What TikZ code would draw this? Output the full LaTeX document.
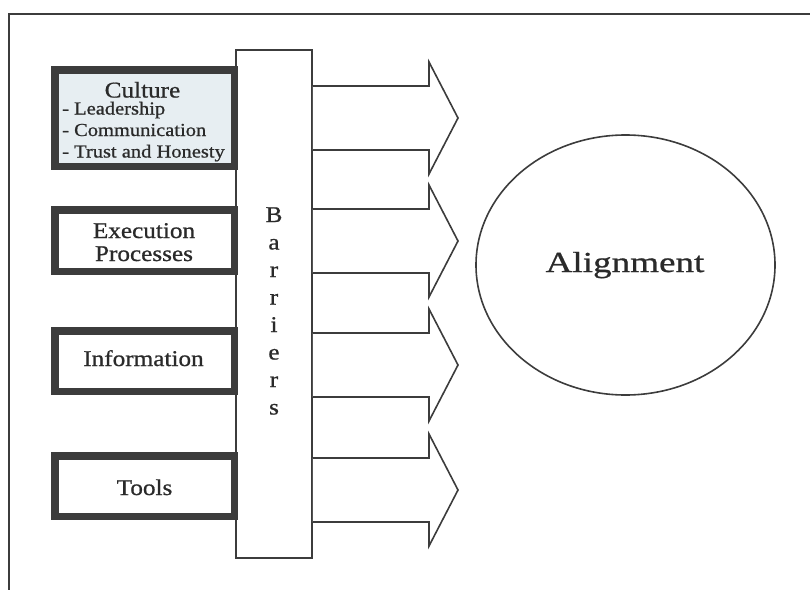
\documentclass[tikz,border=0pt]{standalone}
\usepackage{fontspec}
\setmainfont[FakeStretch=1.12, FakeBold=0.8]{Liberation Serif}
\newfontfamily\alignfont[FakeStretch=1.28, FakeBold=0.8]{Liberation Serif}
\usetikzlibrary{shapes.geometric}
\definecolor{ink}{HTML}{2A2A2A}
\definecolor{edge}{HTML}{3C3C3C}
\definecolor{cultfill}{HTML}{E7EEF2}
\tikzset{
  thickbox/.style={draw=edge, line width=7.5pt, rectangle, inner sep=0pt},
  lbl/.style={text=ink, inner sep=0pt, anchor=base, text depth=0pt, font=\fontsize{22.5}{23}\selectfont},
  sublbl/.style={text=ink, inner sep=0pt, anchor=base west, text height=12pt, font=\fontsize{18.3}{22}\selectfont},
  bararrow/.style={draw=edge, line width=1.6pt, line join=miter, fill=white},
}
\begin{document}
\begin{tikzpicture}[x=1pt,y=-1pt]
\useasboundingbox (0,0) rectangle (810,589);
% outer frame (right and bottom lie outside the picture)
\draw[edge, line width=2pt] (9,600) -- (9,14) -- (820,14);

% barriers column
\node[draw=edge, line width=1.5pt, fill=white, rectangle, inner sep=0pt,
      minimum width=76pt, minimum height=508pt] (bar) at (274,304) {};
\node[text=ink, inner sep=0pt, align=center,
      font=\fontsize{22.5}{27.5}\selectfont] (bartxt) at (274,311)
      {B\\a\\r\\r\\i\\e\\r\\s};

% arrows
\foreach \i/\c in {1/118,2/241,3/365,4/490}{
  \coordinate (t\i) at (458,\c);
  \draw[bararrow] (bar.east |- 0,{\c-32}) -- (429,\c-32) -- (429,\c-56) -- (t\i)
        -- (429,\c+56) -- (429,\c+32) -- (bar.east |- 0,{\c+32});
}

% left boxes
\node[thickbox, fill=cultfill, minimum width=179.5pt, minimum height=96.5pt] (cult) at (144.5,118) {};
\node[thickbox, fill=white, minimum width=179.5pt, minimum height=61.5pt] (exec) at (144.5,240.5) {};
\node[thickbox, fill=white, minimum width=179.5pt, minimum height=60.5pt] (info) at (144.5,361) {};
\node[thickbox, fill=white, minimum width=179.5pt, minimum height=60.5pt] (tools) at (144.5,486) {};

\node[lbl] (cultT) at (142.5,97.5) {Culture};
\node[sublbl] (cult1) at (62,114.5) {- Leadership};
\node[sublbl] (cult2) at (62,136) {- Communication};
\node[sublbl] (cult3) at (62,157.5) {- Trust and Honesty};

\node[lbl] (exec1) at (144,238) {Execution};
\node[lbl] (exec2) at (144,261) {Processes};
\node[lbl] (infoT) at (143.5,366) {Information};
\node[lbl] (toolsT) at (144.5,495) {Tools};

% alignment ellipse
\node[draw=edge, line width=1.6pt, ellipse, minimum width=299pt, minimum height=260pt, inner sep=0pt] (align) at (625.5,265) {};
\node[text=ink, inner sep=0pt, anchor=base, font=\alignfont\fontsize{29}{30}\selectfont] (alignT) at (625,272) {Alignment};
\end{tikzpicture}
\end{document}
